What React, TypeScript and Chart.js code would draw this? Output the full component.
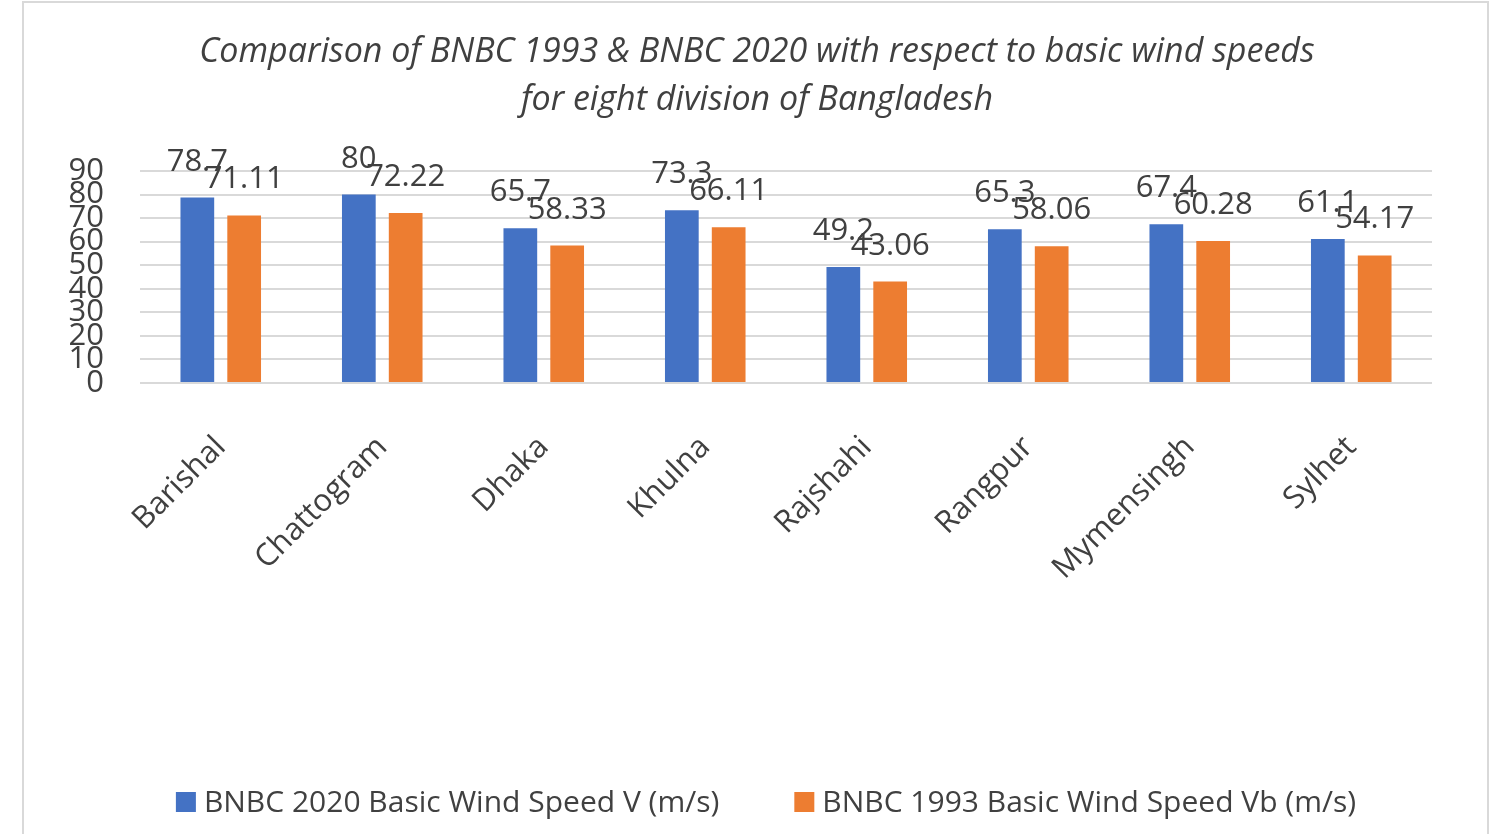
import React, { useEffect, useRef } from "react";
import { Chart, registerables } from "chart.js";

Chart.register(...registerables);

const categories = ["Barishal", "Chattogram", "Dhaka", "Khulna", "Rajshahi", "Rangpur", "Mymensingh", "Sylhet"];
const bnbc2020 = [78.7, 80, 65.7, 73.3, 49.2, 65.3, 67.4, 61.1];
const bnbc1993 = [71.11, 72.22, 58.33, 66.11, 43.06, 58.06, 60.28, 54.17];
const seriesNames = ["BNBC 2020 Basic Wind Speed V (m/s)", "BNBC 1993 Basic Wind Speed Vb (m/s)"];
const titleLines = [
  "Comparison of BNBC 1993 & BNBC 2020 with respect to basic wind speeds",
  "for eight division of Bangladesh",
];

const W = 1509;
const H = 834;
const TEXT = "#404040";
const FONT = "'Open Sans', 'Noto Sans', sans-serif";

const dataLabels = {
  id: "dataLabels",
  afterDatasetsDraw(chart: any) {
    const ctx = chart.ctx;
    ctx.save();
    ctx.font = `31px ${FONT}`;
    ctx.fillStyle = TEXT;
    ctx.textAlign = "center";
    ctx.textBaseline = "alphabetic";
    chart.data.datasets.forEach((ds: any, di: number) => {
      const meta = chart.getDatasetMeta(di);
      meta.data.forEach((bar: any, i: number) => {
        ctx.fillText(String(ds.data[i]), bar.x, bar.y - 27);
      });
    });
    ctx.restore();
  },
};

const titleAndLegend = {
  id: "titleAndLegend",
  afterDraw(chart: any) {
    const ctx = chart.ctx;
    ctx.save();
    // title
    ctx.font = `italic 34px ${FONT}`;
    ctx.fillStyle = TEXT;
    ctx.textAlign = "center";
    ctx.textBaseline = "middle";
    titleLines.forEach((line, i) => ctx.fillText(line, 757, 52 + i * 48));

    // legend
    ctx.font = `30px ${FONT}`;
    ctx.textBaseline = "middle";
    ctx.textAlign = "left";
    const y = 803;
    const box = 20;
    const gapBoxText = 8;
    const gapItems = 75;
    const widths = chart.data.datasets.map((ds: any) => box + gapBoxText + ctx.measureText(ds.label).width);
    const total = widths.reduce((a: number, b: number) => a + b, 0) + gapItems * (widths.length - 1);
    let x = 766 - total / 2;
    chart.data.datasets.forEach((ds: any, i: number) => {
      ctx.fillStyle = ds.backgroundColor;
      ctx.fillRect(x, y - box / 2 - 1, box, box);
      ctx.fillStyle = TEXT;
      ctx.fillText(ds.label, x + box + gapBoxText, y);
      x += widths[i] + gapItems;
    });
    // outer frame
    ctx.strokeStyle = "#d9d9d9";
    ctx.lineWidth = 2;
    ctx.beginPath();
    ctx.moveTo(23, H + 5);
    ctx.lineTo(23, 2);
    ctx.lineTo(1488, 2);
    ctx.lineTo(1488, H + 5);
    ctx.stroke();
    ctx.restore();
  },
};

export default function App() {
  const ref = useRef<HTMLCanvasElement>(null);
  useEffect(() => {
    document.body.style.margin = "0";
    const chart = new Chart(ref.current as HTMLCanvasElement, {
      type: "bar",
      data: {
        labels: categories,
        datasets: [
          { label: seriesNames[0], data: bnbc2020, backgroundColor: "#4472C4", categoryPercentage: 0.58, barPercentage: 0.72 },
          { label: seriesNames[1], data: bnbc1993, backgroundColor: "#ED7D31", categoryPercentage: 0.58, barPercentage: 0.72 },
        ],
      },
      options: {
        responsive: false,
        animation: false,
        layout: { padding: { top: 171, left: 0, right: 77, bottom: 0 } },
        plugins: {
          legend: { display: false },
          tooltip: { enabled: false },
          title: { display: false },
        },
        scales: {
          x: {
            grid: { display: false },
            border: { display: false },
            ticks: {
              color: TEXT,
              font: { family: FONT, size: 31 },
              maxRotation: 45,
              minRotation: 45,
              padding: 38,
              autoSkip: false,
            },
            afterFit(scale: any) {
              scale.height = H - 383;
            },
          },
          y: {
            min: 0,
            max: 90,
            grid: { color: "#d9d9d9", lineWidth: 2, drawTicks: false },
            border: { display: false },
            ticks: {
              stepSize: 10,
              autoSkip: false,
              color: TEXT,
              font: { family: FONT, size: 31 },
              padding: 36,
            },
            afterFit(scale: any) {
              scale.width = 140;
            },
          },
        },
      },
      plugins: [dataLabels, titleAndLegend],
    });
    return () => chart.destroy();
  }, []);
  return (
    <div style={{ width: W, height: H, position: "relative", overflow: "hidden", background: "#fff" }}>
      <canvas ref={ref} width={W} height={H} style={{ display: "block" }} />
    </div>
  );
}
